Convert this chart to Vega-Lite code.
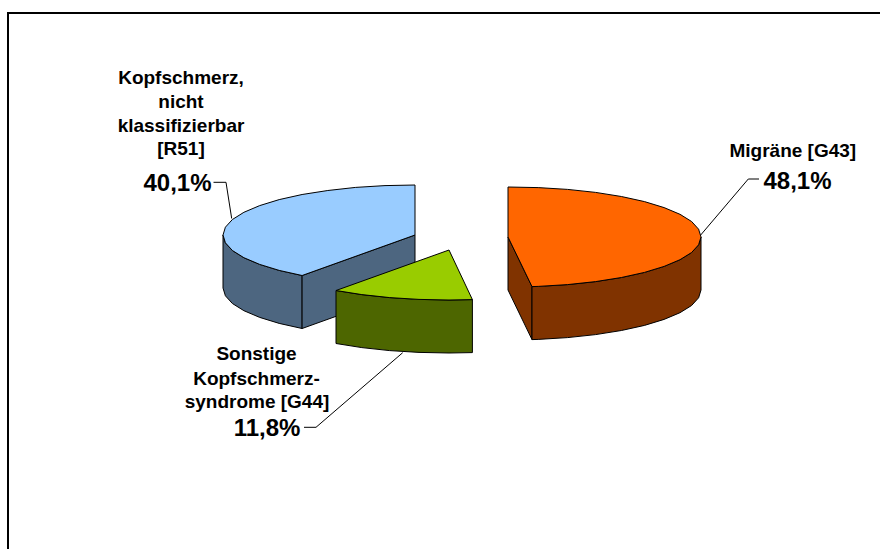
{"$schema":"https://vega.github.io/schema/vega-lite/v6.json","width":880,"height":549,"padding":0,"autosize":{"type":"none"},"background":"white","view":{"stroke":null},
"datasets":{
"shapes":[
{"s":"Kopfschmerz Wand","i":1,"x":302.1,"y":275.5},{"s":"Kopfschmerz Wand","i":2,"x":279.2,"y":270.4},{"s":"Kopfschmerz Wand","i":3,"x":259.7,"y":264.4},{"s":"Kopfschmerz Wand","i":4,"x":243.9,"y":257.7},{"s":"Kopfschmerz Wand","i":5,"x":232.4,"y":250.5},{"s":"Kopfschmerz Wand","i":6,"x":225.4,"y":242.8},{"s":"Kopfschmerz Wand","i":7,"x":223,"y":235},{"s":"Kopfschmerz Wand","i":8,"x":223,"y":288},{"s":"Kopfschmerz Wand","i":9,"x":225.4,"y":295.8},{"s":"Kopfschmerz Wand","i":10,"x":232.4,"y":303.5},{"s":"Kopfschmerz Wand","i":11,"x":243.9,"y":310.7},{"s":"Kopfschmerz Wand","i":12,"x":259.7,"y":317.4},{"s":"Kopfschmerz Wand","i":13,"x":279.2,"y":323.4},{"s":"Kopfschmerz Wand","i":14,"x":302.1,"y":328.5},{"s":"Kopfschmerz Wand","i":15,"x":302.1,"y":275.5},
{"s":"Kopfschmerz Schnitt","i":1,"x":302.1,"y":275.5},{"s":"Kopfschmerz Schnitt","i":2,"x":415,"y":235},{"s":"Kopfschmerz Schnitt","i":3,"x":415,"y":288},{"s":"Kopfschmerz Schnitt","i":4,"x":302.1,"y":328.5},{"s":"Kopfschmerz Schnitt","i":5,"x":302.1,"y":275.5},
{"s":"Kopfschmerz Top","i":1,"x":302.1,"y":275.5},{"s":"Kopfschmerz Top","i":2,"x":279.2,"y":270.4},{"s":"Kopfschmerz Top","i":3,"x":259.7,"y":264.4},{"s":"Kopfschmerz Top","i":4,"x":243.9,"y":257.7},{"s":"Kopfschmerz Top","i":5,"x":232.4,"y":250.5},{"s":"Kopfschmerz Top","i":6,"x":225.4,"y":242.8},{"s":"Kopfschmerz Top","i":7,"x":223,"y":235},{"s":"Kopfschmerz Top","i":8,"x":225.4,"y":227.2},{"s":"Kopfschmerz Top","i":9,"x":232.4,"y":219.5},{"s":"Kopfschmerz Top","i":10,"x":243.9,"y":212.3},{"s":"Kopfschmerz Top","i":11,"x":259.7,"y":205.6},{"s":"Kopfschmerz Top","i":12,"x":279.2,"y":199.6},{"s":"Kopfschmerz Top","i":13,"x":302.1,"y":194.5},{"s":"Kopfschmerz Top","i":14,"x":327.8,"y":190.5},{"s":"Kopfschmerz Top","i":15,"x":355.7,"y":187.4},{"s":"Kopfschmerz Top","i":16,"x":385,"y":185.6},{"s":"Kopfschmerz Top","i":17,"x":415,"y":185},{"s":"Kopfschmerz Top","i":18,"x":415,"y":235},{"s":"Kopfschmerz Top","i":19,"x":302.1,"y":275.5},
{"s":"Sonstige Wand","i":1,"x":336,"y":290.5},{"s":"Sonstige Wand","i":2,"x":361.8,"y":294.6},{"s":"Sonstige Wand","i":3,"x":389.7,"y":297.6},{"s":"Sonstige Wand","i":4,"x":419,"y":299.4},{"s":"Sonstige Wand","i":5,"x":449,"y":300},{"s":"Sonstige Wand","i":6,"x":472.4,"y":299.6},{"s":"Sonstige Wand","i":7,"x":472.4,"y":352.6},{"s":"Sonstige Wand","i":8,"x":449,"y":353},{"s":"Sonstige Wand","i":9,"x":419,"y":352.4},{"s":"Sonstige Wand","i":10,"x":389.7,"y":350.6},{"s":"Sonstige Wand","i":11,"x":361.8,"y":347.6},{"s":"Sonstige Wand","i":12,"x":336,"y":343.5},{"s":"Sonstige Wand","i":13,"x":336,"y":290.5},
{"s":"Sonstige Top","i":1,"x":449,"y":250},{"s":"Sonstige Top","i":2,"x":336,"y":290.5},{"s":"Sonstige Top","i":3,"x":361.8,"y":294.6},{"s":"Sonstige Top","i":4,"x":389.7,"y":297.6},{"s":"Sonstige Top","i":5,"x":419,"y":299.4},{"s":"Sonstige Top","i":6,"x":449,"y":300},{"s":"Sonstige Top","i":7,"x":472.4,"y":299.6},{"s":"Sonstige Top","i":8,"x":449,"y":250},
{"s":"Migräne Schnitt","i":1,"x":508,"y":237},{"s":"Migräne Schnitt","i":2,"x":532,"y":286.6},{"s":"Migräne Schnitt","i":3,"x":532,"y":339.6},{"s":"Migräne Schnitt","i":4,"x":508,"y":290},{"s":"Migräne Schnitt","i":5,"x":508,"y":237},
{"s":"Migräne Wand","i":1,"x":701,"y":237},{"s":"Migräne Wand","i":2,"x":698.6,"y":244.8},{"s":"Migräne Wand","i":3,"x":691.6,"y":252.5},{"s":"Migräne Wand","i":4,"x":680,"y":259.7},{"s":"Migräne Wand","i":5,"x":664.1,"y":266.4},{"s":"Migräne Wand","i":6,"x":644.5,"y":272.4},{"s":"Migräne Wand","i":7,"x":621.4,"y":277.5},{"s":"Migräne Wand","i":8,"x":595.6,"y":281.6},{"s":"Migräne Wand","i":9,"x":567.6,"y":284.6},{"s":"Migräne Wand","i":10,"x":538.2,"y":286.4},{"s":"Migräne Wand","i":11,"x":532,"y":286.6},{"s":"Migräne Wand","i":12,"x":532,"y":339.6},{"s":"Migräne Wand","i":13,"x":538.2,"y":339.4},{"s":"Migräne Wand","i":14,"x":567.6,"y":337.6},{"s":"Migräne Wand","i":15,"x":595.6,"y":334.6},{"s":"Migräne Wand","i":16,"x":621.4,"y":330.5},{"s":"Migräne Wand","i":17,"x":644.5,"y":325.4},{"s":"Migräne Wand","i":18,"x":664.1,"y":319.4},{"s":"Migräne Wand","i":19,"x":680,"y":312.7},{"s":"Migräne Wand","i":20,"x":691.6,"y":305.5},{"s":"Migräne Wand","i":21,"x":698.6,"y":297.8},{"s":"Migräne Wand","i":22,"x":701,"y":290},{"s":"Migräne Wand","i":23,"x":701,"y":237},
{"s":"Migräne Top","i":1,"x":508,"y":187},{"s":"Migräne Top","i":2,"x":538.2,"y":187.6},{"s":"Migräne Top","i":3,"x":567.6,"y":189.4},{"s":"Migräne Top","i":4,"x":595.6,"y":192.4},{"s":"Migräne Top","i":5,"x":621.4,"y":196.5},{"s":"Migräne Top","i":6,"x":644.5,"y":201.6},{"s":"Migräne Top","i":7,"x":664.1,"y":207.6},{"s":"Migräne Top","i":8,"x":680,"y":214.3},{"s":"Migräne Top","i":9,"x":691.6,"y":221.5},{"s":"Migräne Top","i":10,"x":698.6,"y":229.2},{"s":"Migräne Top","i":11,"x":701,"y":237},{"s":"Migräne Top","i":12,"x":698.6,"y":244.8},{"s":"Migräne Top","i":13,"x":691.6,"y":252.5},{"s":"Migräne Top","i":14,"x":680,"y":259.7},{"s":"Migräne Top","i":15,"x":664.1,"y":266.4},{"s":"Migräne Top","i":16,"x":644.5,"y":272.4},{"s":"Migräne Top","i":17,"x":621.4,"y":277.5},{"s":"Migräne Top","i":18,"x":595.6,"y":281.6},{"s":"Migräne Top","i":19,"x":567.6,"y":284.6},{"s":"Migräne Top","i":20,"x":538.2,"y":286.4},{"s":"Migräne Top","i":21,"x":532,"y":286.6},{"s":"Migräne Top","i":22,"x":508,"y":237},{"s":"Migräne Top","i":23,"x":508,"y":187}
],
"leaders":[
{"s":"Kopfschmerz","i":1,"x":231.7,"y":218.5},{"s":"Kopfschmerz","i":2,"x":226,"y":182.3},{"s":"Kopfschmerz","i":3,"x":213.5,"y":182.3},
{"s":"Migräne","i":1,"x":700.7,"y":235},{"s":"Migräne","i":2,"x":748.3,"y":179},{"s":"Migräne","i":3,"x":759,"y":179},
{"s":"Sonstige","i":1,"x":402.7,"y":352.7},{"s":"Sonstige","i":2,"x":316,"y":427.3},{"s":"Sonstige","i":3,"x":304,"y":427.3}
],
"frame":[{"i":1,"x":880,"y":13},{"i":2,"x":8,"y":13},{"i":3,"x":8,"y":549}],
"names":[
{"t":"Kopfschmerz,","x":181,"y":84},{"t":"nicht","x":181,"y":108},{"t":"klassifizierbar","x":181,"y":132},{"t":"[R51]","x":181,"y":155},
{"t":"Migräne [G43]","x":792.8,"y":157},
{"t":"Sonstige","x":256.5,"y":360},{"t":"Kopfschmerz-","x":256.5,"y":385},{"t":"syndrome [G44]","x":257,"y":408}
],
"shares":[
{"t":"40,1%","x":177.5,"y":191},{"t":"48,1%","x":797.5,"y":189},{"t":"11,8%","x":267,"y":436}
]},
"encoding":{
"x":{"field":"x","type":"quantitative","scale":{"domain":[0,880],"nice":false,"zero":false},"axis":null},
"y":{"field":"y","type":"quantitative","scale":{"domain":[549,0],"nice":false,"zero":false},"axis":null}},
"layer":[
{"data":{"name":"frame"},"mark":{"type":"line","stroke":"#000000","strokeWidth":2,"clip":true},"encoding":{"order":{"field":"i"}}},
{"data":{"name":"leaders"},"mark":{"type":"line","stroke":"#000000","strokeWidth":1},"encoding":{"detail":{"field":"s"},"order":{"field":"i"}}},
{"data":{"name":"shapes"},"mark":{"type":"line","filled":true,"stroke":"#000000","strokeWidth":1,"strokeJoin":"round"},"encoding":{
"fill":{"field":"s","type":"nominal","legend":null,"sort":null,"scale":{"domain":["Kopfschmerz Wand","Kopfschmerz Schnitt","Kopfschmerz Top","Sonstige Wand","Sonstige Top","Migräne Schnitt","Migräne Wand","Migräne Top"],"range":["#4D6680","#4D6680","#99CCFF","#4D6600","#99CC00","#803300","#803300","#FF6600"]}},
"order":{"field":"i"}}},
{"data":{"name":"names"},"mark":{"type":"text","font":"Liberation Sans","fontWeight":"bold","fontSize":19,"align":"center","baseline":"alphabetic","fill":"#000000"},"encoding":{"text":{"field":"t"}}},
{"data":{"name":"shares"},"mark":{"type":"text","font":"Liberation Sans","fontWeight":"bold","fontSize":24,"align":"center","baseline":"alphabetic","fill":"#000000"},"encoding":{"text":{"field":"t"}}}
]}
